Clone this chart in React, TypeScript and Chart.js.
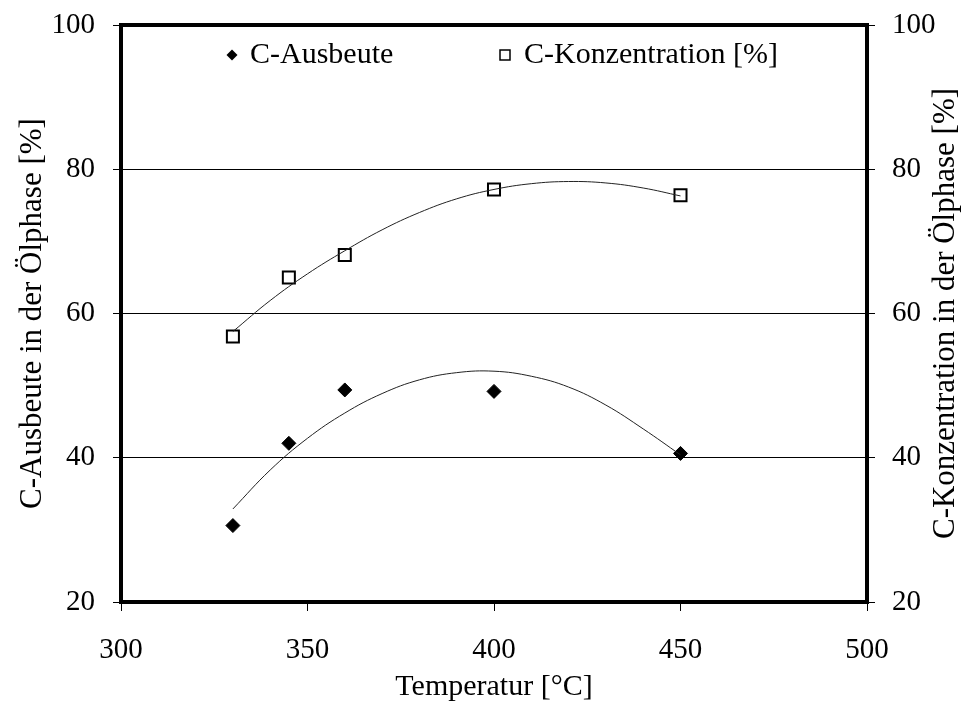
import React, { useEffect, useRef } from "react";
import { Chart, registerables } from "chart.js";

Chart.register(...registerables);

// Measured values
const temperatures = [330, 345, 360, 400, 450];
const ausbeute = [30.6, 42.0, 49.4, 49.2, 40.6];
const konzentration = [56.8, 65.0, 68.1, 77.2, 76.4];

// Trend curves
const trendTemps = [330, 340, 350, 360, 370, 380, 390, 400, 410, 420, 430, 440, 450];
const ausbeuteTrend = [32.9, 38.3, 42.7, 46.2, 48.9, 50.8, 51.8, 52.0, 51.3, 49.8, 47.3, 44.0, 40.4];
const konzTrend = [57.5, 61.8, 65.5, 68.7, 71.6, 74.0, 75.9, 77.2, 78.0, 78.3, 78.1, 77.4, 76.3];

const xTicks = [300, 350, 400, 450, 500];
const yTicks = [20, 40, 60, 80, 100];

const legendLabels = ["C-Ausbeute", "C-Konzentration [%]"];
const xTitle = "Temperatur [°C]";
const yLeftTitle = "C-Ausbeute in der Ölphase [%]";
const yRightTitle = "C-Konzentration in der Ölphase [%]";

const FONT = '"Liberation Serif", "Times New Roman", serif';

export default function App() {
  const canvasRef = useRef<HTMLCanvasElement | null>(null);

  useEffect(() => {
    const canvas = canvasRef.current;
    if (!canvas) return;

    const decor = {
      id: "decor",
      afterDraw(chart: any) {
        const { ctx, chartArea: a } = chart;
        ctx.save();
        // thick frame
        ctx.strokeStyle = "#000";
        ctx.lineWidth = 4;
        ctx.strokeRect(a.left, a.top, a.right - a.left, a.bottom - a.top);

        // legend
        ctx.fillStyle = "#000";
        ctx.font = `30px ${FONT}`;
        ctx.textAlign = "left";
        ctx.textBaseline = "middle";
        const ly = a.top + 30;
        // diamond
        const dx = a.left + 111;
        ctx.beginPath();
        ctx.moveTo(dx - 5.5, ly);
        ctx.lineTo(dx, ly - 5.5);
        ctx.lineTo(dx + 5.5, ly);
        ctx.lineTo(dx, ly + 5.5);
        ctx.closePath();
        ctx.fill();
        ctx.fillText(legendLabels[0], dx + 18, ly);
        // square
        const sx = a.left + 384;
        ctx.lineWidth = 1.5;
        ctx.strokeRect(sx - 5, ly - 5, 10, 10);
        ctx.fillText(legendLabels[1], sx + 19, ly);

        // right axis title (reads bottom to top)
        ctx.translate(946, (a.top + a.bottom) / 2);
        ctx.rotate(-Math.PI / 2);
        ctx.font = `31px ${FONT}`;
        ctx.textAlign = "center";
        ctx.textBaseline = "middle";
        ctx.fillText(yRightTitle, 0, 0);
        ctx.restore();
      },
    };

    const fixVertical = (w: number) => (s: any) => {
      s.width = w;
      s.paddingTop = 0;
      s.paddingBottom = 0;
    };

    const chart = new Chart(canvas, {
      type: "scatter",
      data: {
        datasets: [
          {
            label: legendLabels[0],
            data: temperatures.map((t, i) => ({ x: t, y: ausbeute[i] })),
            pointStyle: "rectRot",
            pointRadius: 7,
            backgroundColor: "#000",
            borderColor: "#000",
            borderWidth: 1,
            showLine: false,
            order: 2,
          },
          {
            label: legendLabels[1],
            data: temperatures.map((t, i) => ({ x: t, y: konzentration[i] })),
            pointStyle: "rect",
            pointRadius: 8.5,
            backgroundColor: "rgba(255,255,255,0)",
            borderColor: "#000",
            borderWidth: 2,
            showLine: false,
            order: 2,
          },
          {
            label: "trend1",
            data: trendTemps.map((t, i) => ({ x: t, y: ausbeuteTrend[i] })),
            showLine: true,
            pointRadius: 0,
            borderColor: "#222",
            borderWidth: 1,
            tension: 0.4,
            fill: false,
            order: 1,
          },
          {
            label: "trend2",
            data: trendTemps.map((t, i) => ({ x: t, y: konzTrend[i] })),
            showLine: true,
            pointRadius: 0,
            borderColor: "#222",
            borderWidth: 1,
            tension: 0.4,
            fill: false,
            order: 1,
          },
        ],
      },
      options: {
        responsive: false,
        animation: false,
        devicePixelRatio: 1,
        layout: { padding: { top: 25, left: 0, right: 0, bottom: 0 } },
        plugins: {
          legend: { display: false },
          tooltip: { enabled: false },
        },
        scales: {
          x: {
            type: "linear",
            min: 300,
            max: 500,
            afterBuildTicks: (s: any) => {
              s.ticks = xTicks.map((v) => ({ value: v }));
            },
            afterFit: (s: any) => {
              s.height = 104;
              s.paddingLeft = 0;
              s.paddingRight = 0;
            },
            border: { display: false },
            grid: {
              drawOnChartArea: false,
              drawTicks: true,
              tickLength: 9,
              color: "#000",
              lineWidth: 1,
            },
            ticks: {
              color: "#000",
              font: { family: FONT, size: 29 },
              padding: 22,
              maxRotation: 0,
            },
            title: {
              display: true,
              text: xTitle,
              color: "#000",
              font: { family: FONT, size: 30 },
              padding: { top: 0, bottom: 1 },
            },
          },
          y: {
            type: "linear",
            position: "left",
            min: 20,
            max: 100,
            afterBuildTicks: (s: any) => {
              s.ticks = yTicks.map((v) => ({ value: v }));
            },
            afterFit: fixVertical(121),
            border: { display: false },
            grid: {
              drawOnChartArea: true,
              drawTicks: true,
              tickLength: 8,
              color: "#000",
              lineWidth: 1,
            },
            ticks: {
              color: "#000",
              font: { family: FONT, size: 29 },
              padding: 18,
            },
            title: {
              display: true,
              text: yLeftTitle,
              color: "#000",
              font: { family: FONT, size: 31 },
              padding: { top: 14, bottom: 0 },
            },
          },
          y2: {
            type: "linear",
            position: "right",
            min: 20,
            max: 100,
            afterBuildTicks: (s: any) => {
              s.ticks = yTicks.map((v) => ({ value: v }));
            },
            afterFit: fixVertical(100),
            border: { display: false },
            grid: {
              drawOnChartArea: false,
              drawTicks: true,
              tickLength: 8,
              color: "#000",
              lineWidth: 1,
            },
            ticks: {
              color: "#000",
              font: { family: FONT, size: 29 },
              padding: 17,
            },
          },
        },
      },
      plugins: [decor],
    } as any);

    return () => {
      chart.destroy();
    };
  }, []);

  return (
    <div
      style={{
        position: "absolute",
        left: 0,
        top: 0,
        width: 967,
        height: 706,
        background: "#fff",
      }}
    >
      <canvas ref={canvasRef} width={967} height={706} style={{ display: "block" }} />
    </div>
  );
}
